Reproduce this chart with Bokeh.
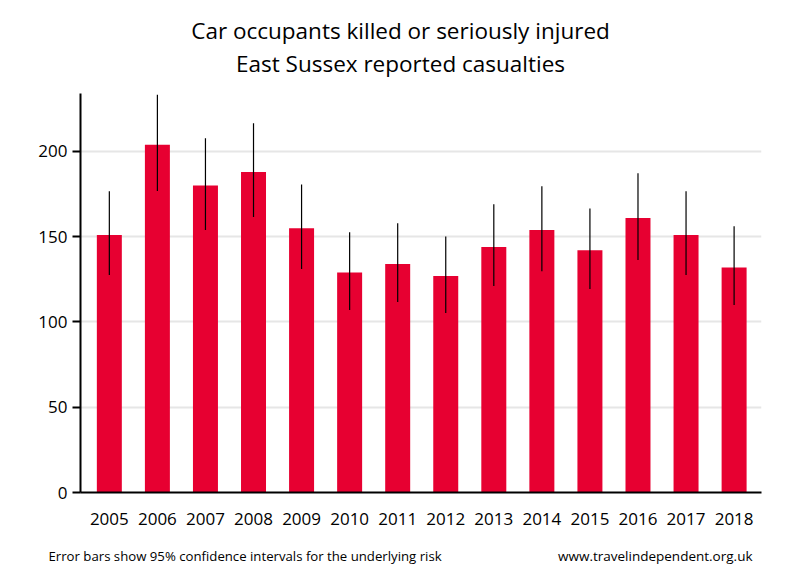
from bokeh.plotting import figure
from bokeh.layouts import column, row
from bokeh.models import Range1d, FixedTicker, ColumnDataSource
from bokeh.embed import file_html
from bokeh.resources import INLINE
from bokeh.core.properties import value

# Data
years = ["2005", "2006", "2007", "2008", "2009", "2010", "2011",
         "2012", "2013", "2014", "2015", "2016", "2017", "2018"]
casualties = [151, 204, 180, 188, 155, 129, 134, 127, 144, 154, 142, 161, 151, 132]
ci_upper = [176.6, 233.3, 207.7, 216.5, 180.7, 152.6, 157.9, 150.2, 169.0, 179.6, 166.6, 187.2, 176.6, 156.1]
ci_lower = [127.6, 176.8, 153.9, 161.6, 131.1, 107.0, 111.7, 105.3, 121.1, 129.7, 119.3, 136.3, 127.6, 110.0]
y_ticks = [0, 50, 100, 150, 200]

title_lines = ["Car occupants killed or seriously injured", "East Sussex reported casualties"]
footer_left = "Error bars show 95% confidence intervals for the underlying risk"
footer_right = "www.travelindependent.org.uk"

FONT = "Open Sans"
BAR_COLOR = "#E70031"
W = 792
LEFT, RIGHT = 80, 31


def blank(height, left, right):
    f = figure(width=W, height=height, output_backend="svg", toolbar_location=None,
               x_range=Range1d(left, W - right), y_range=Range1d(height, 0),
               x_axis_type=None, y_axis_type=None,
               min_border_left=left, min_border_right=right,
               min_border_top=0, min_border_bottom=0)
    f.outline_line_color = None
    f.xgrid.grid_line_color = None
    f.ygrid.grid_line_color = None
    return f


# Header with the two-line title
header = blank(80, LEFT, RIGHT)
header.text(x=[400, 400], y=[30, 62.5], text=title_lines, text_align="center",
            text_baseline="middle", text_font=value(FONT), text_font_size="22.5px",
            text_color="black")

# Main chart
xs = list(range(len(years)))
src = ColumnDataSource(dict(x=xs, top=casualties, lo=ci_lower, hi=ci_upper))

p = figure(width=W, height=460, output_backend="svg", toolbar_location=None,
           x_range=Range1d(-0.6, len(years) - 1 + 0.57), y_range=Range1d(0, 234),
           min_border_left=LEFT, min_border_right=RIGHT, min_border_top=13, min_border_bottom=48)
p.outline_line_color = None

p.vbar(x="x", top="top", width=0.52, bottom=0, source=src,
       fill_color=BAR_COLOR, line_color=None)
p.segment(x0="x", x1="x", y0="lo", y1="hi", source=src, line_color="black", line_width=1.2)

p.xgrid.grid_line_color = None
p.ygrid.grid_line_color = "#e6e6e6"
p.ygrid.grid_line_width = 2
p.ygrid.ticker = FixedTicker(ticks=y_ticks)

xa = p.xaxis[0]
xa.ticker = FixedTicker(ticks=xs)
xa.major_label_overrides = {i: y for i, y in enumerate(years)}
xa.major_tick_line_color = None
xa.minor_tick_line_color = None
xa.major_tick_out = 0
xa.major_tick_in = 0
xa.axis_line_width = 2
xa.axis_line_color = "black"
xa.major_label_standoff = 20
xa.major_label_text_font = FONT
xa.major_label_text_font_size = "17px"
xa.major_label_text_color = "black"

ya = p.yaxis[0]
ya.ticker = FixedTicker(ticks=y_ticks)
ya.axis_line_width = 2
ya.axis_line_color = "black"
ya.major_tick_line_color = "black"
ya.major_tick_line_width = 2
ya.major_tick_out = 8
ya.major_tick_in = 0
ya.minor_tick_line_color = None
ya.major_label_standoff = 5
ya.major_label_text_font = FONT
ya.major_label_text_font_size = "17px"
ya.major_label_text_color = "black"

# Footer (full-width frame, nested in a row so it is not frame-aligned)
footer = blank(30, 0, 0)
footer.text(x=[48], y=[15], text=[footer_left], text_align="left", text_baseline="middle",
            text_font=value(FONT), text_font_size="13.2px", text_color="black")
footer.text(x=[752], y=[15], text=[footer_right], text_align="right", text_baseline="middle",
            text_font=value(FONT), text_font_size="13.5px", text_color="black")

layout = column(header, p, row(footer), spacing=0)
open("out.html", "w").write(file_html(layout, INLINE))
